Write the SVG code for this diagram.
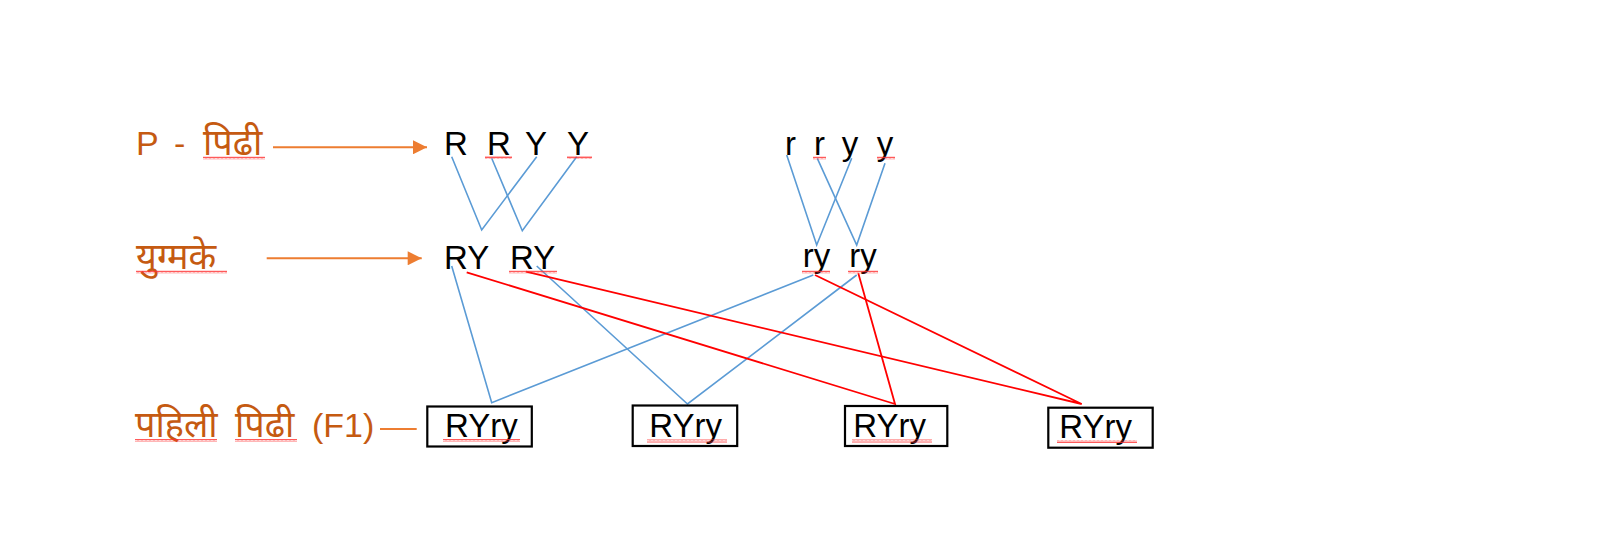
<svg xmlns="http://www.w3.org/2000/svg" width="1600" height="540" viewBox="0 0 1600 540">
<style>
.lbl{font-family:"Liberation Sans","Noto Sans","Noto Sans Devanagari",sans-serif;font-size:34px;fill:#C55A11}
.dv{font-size:36px}
.g{font-family:"Liberation Sans",Arial,sans-serif;font-size:33px;fill:#000}
.arr{stroke:#ED7D31;stroke-width:2;fill:none}
.blue{stroke:#5B9BD5;stroke-width:1.6;fill:none}
.red{stroke:#FF0000;stroke-width:1.8;fill:none}
.box{fill:#fff;stroke:#000;stroke-width:2.2}
.sq{fill:url(#wave)}
</style>
<defs>
<marker id="ah" viewBox="0 0 10 10" refX="10" refY="5" markerWidth="8" markerHeight="7" markerUnits="strokeWidth" orient="auto">
<path d="M0,0 L10,5 L0,10 z" fill="#ED7D31"/>
</marker>
<pattern id="wave" patternUnits="userSpaceOnUse" width="4" height="3">
<path d="M0,2.5 L1,0.5 L2,2.5 L3,0.5 L4,2.5" stroke="#FF3030" stroke-width="0.8" fill="none"/>
</pattern>
</defs>
<rect width="1600" height="540" fill="#fff"/>

<g id="connectors">
<line class="arr" x1="273" y1="147.3" x2="427" y2="147.3" marker-end="url(#ah)"/>
<line class="arr" x1="266.7" y1="258.3" x2="421.7" y2="258.3" marker-end="url(#ah)"/>
<line class="arr" x1="380" y1="429" x2="416.7" y2="429"/>
<polyline class="blue" points="451.7,156.7 481.7,230 536.7,156.7"/>
<polyline class="blue" points="491.7,158.3 522.3,230.7 576.7,156.7"/>
<polyline class="blue" points="786.7,155 816.7,245 851.7,158.3"/>
<polyline class="blue" points="817.3,158.3 856.7,245 885,163.3"/>
<polyline class="blue" points="451.7,266 491.7,402.7 813.3,275"/>
<polyline class="blue" points="536.7,266 687.5,404 856.7,275"/>
<polyline class="red" points="466.7,272.3 895,404 858.3,273.3"/>
<polyline class="red" points="526,271.7 1081.7,404 815,275"/>
</g>

<g id="label-p">
<text class="lbl"><tspan x="136" y="155">P</tspan><tspan x="174" y="155">-</tspan><tspan class="dv" x="203" y="155">पिढी</tspan></text>
<rect class="sq" x="203" y="156.5" width="62" height="3"/>
</g>
<g id="label-gametes">
<text class="lbl dv" x="136" y="269">युग्मके</text>
<rect class="sq" x="136" y="270.5" width="91" height="3"/>
</g>
<g id="label-f1">
<text class="lbl"><tspan class="dv" x="135" y="437">पहिली</tspan><tspan class="dv" x="235" y="437">पिढी</tspan><tspan x="312" y="437">(F1)</tspan></text>
<rect class="sq" x="135" y="439" width="82" height="3"/>
<rect class="sq" x="235" y="439" width="62" height="3"/>
</g>

<g id="parent-dominant">
<text class="g"><tspan x="444" y="155">R</tspan><tspan x="487" y="155">R</tspan><tspan x="525" y="155">Y</tspan><tspan x="567" y="155">Y</tspan></text>
<rect class="sq" x="485" y="156" width="27" height="3"/>
<rect class="sq" x="567" y="156" width="25" height="3"/>
</g>
<g id="parent-recessive">
<text class="g"><tspan x="785" y="155">r</tspan><tspan x="814" y="155">r</tspan><tspan x="841.7" y="155">y</tspan><tspan x="876.7" y="155">y</tspan></text>
<rect class="sq" x="813" y="156.5" width="13" height="3"/>
<rect class="sq" x="877" y="156.5" width="18" height="3"/>
</g>
<g id="gametes-dominant">
<text class="g"><tspan x="444" y="269">RY</tspan><tspan x="510" y="269">RY</tspan></text>
<rect class="sq" x="509" y="270.5" width="48" height="3"/>
</g>
<g id="gametes-recessive">
<text class="g"><tspan x="802.7" y="267">ry</tspan><tspan x="849.3" y="267">ry</tspan></text>
<rect class="sq" x="802" y="270.5" width="28" height="3"/>
<rect class="sq" x="848" y="270.5" width="30" height="3"/>
</g>

<g id="f1-1">
<rect class="box" x="427.3" y="406.5" width="104.5" height="40"/>
<text class="g" x="445" y="437">RYry</text>
<rect class="sq" x="443" y="439" width="77" height="3"/>
</g>
<g id="f1-2">
<rect class="box" x="632.7" y="405.5" width="104.5" height="40.5"/>
<text class="g" x="649.3" y="437">RYry</text>
<rect class="sq" x="647" y="439.5" width="80" height="3"/>
</g>
<g id="f1-3">
<rect class="box" x="845" y="406" width="102.3" height="40"/>
<text class="g" x="853.3" y="437">RYry</text>
<rect class="sq" x="852" y="439.5" width="80" height="3"/>
</g>
<g id="f1-4">
<rect class="box" x="1048.3" y="407.7" width="104.4" height="40"/>
<text class="g" x="1059.3" y="438">RYry</text>
<rect class="sq" x="1057" y="440" width="80" height="3"/>
</g>
</svg>
